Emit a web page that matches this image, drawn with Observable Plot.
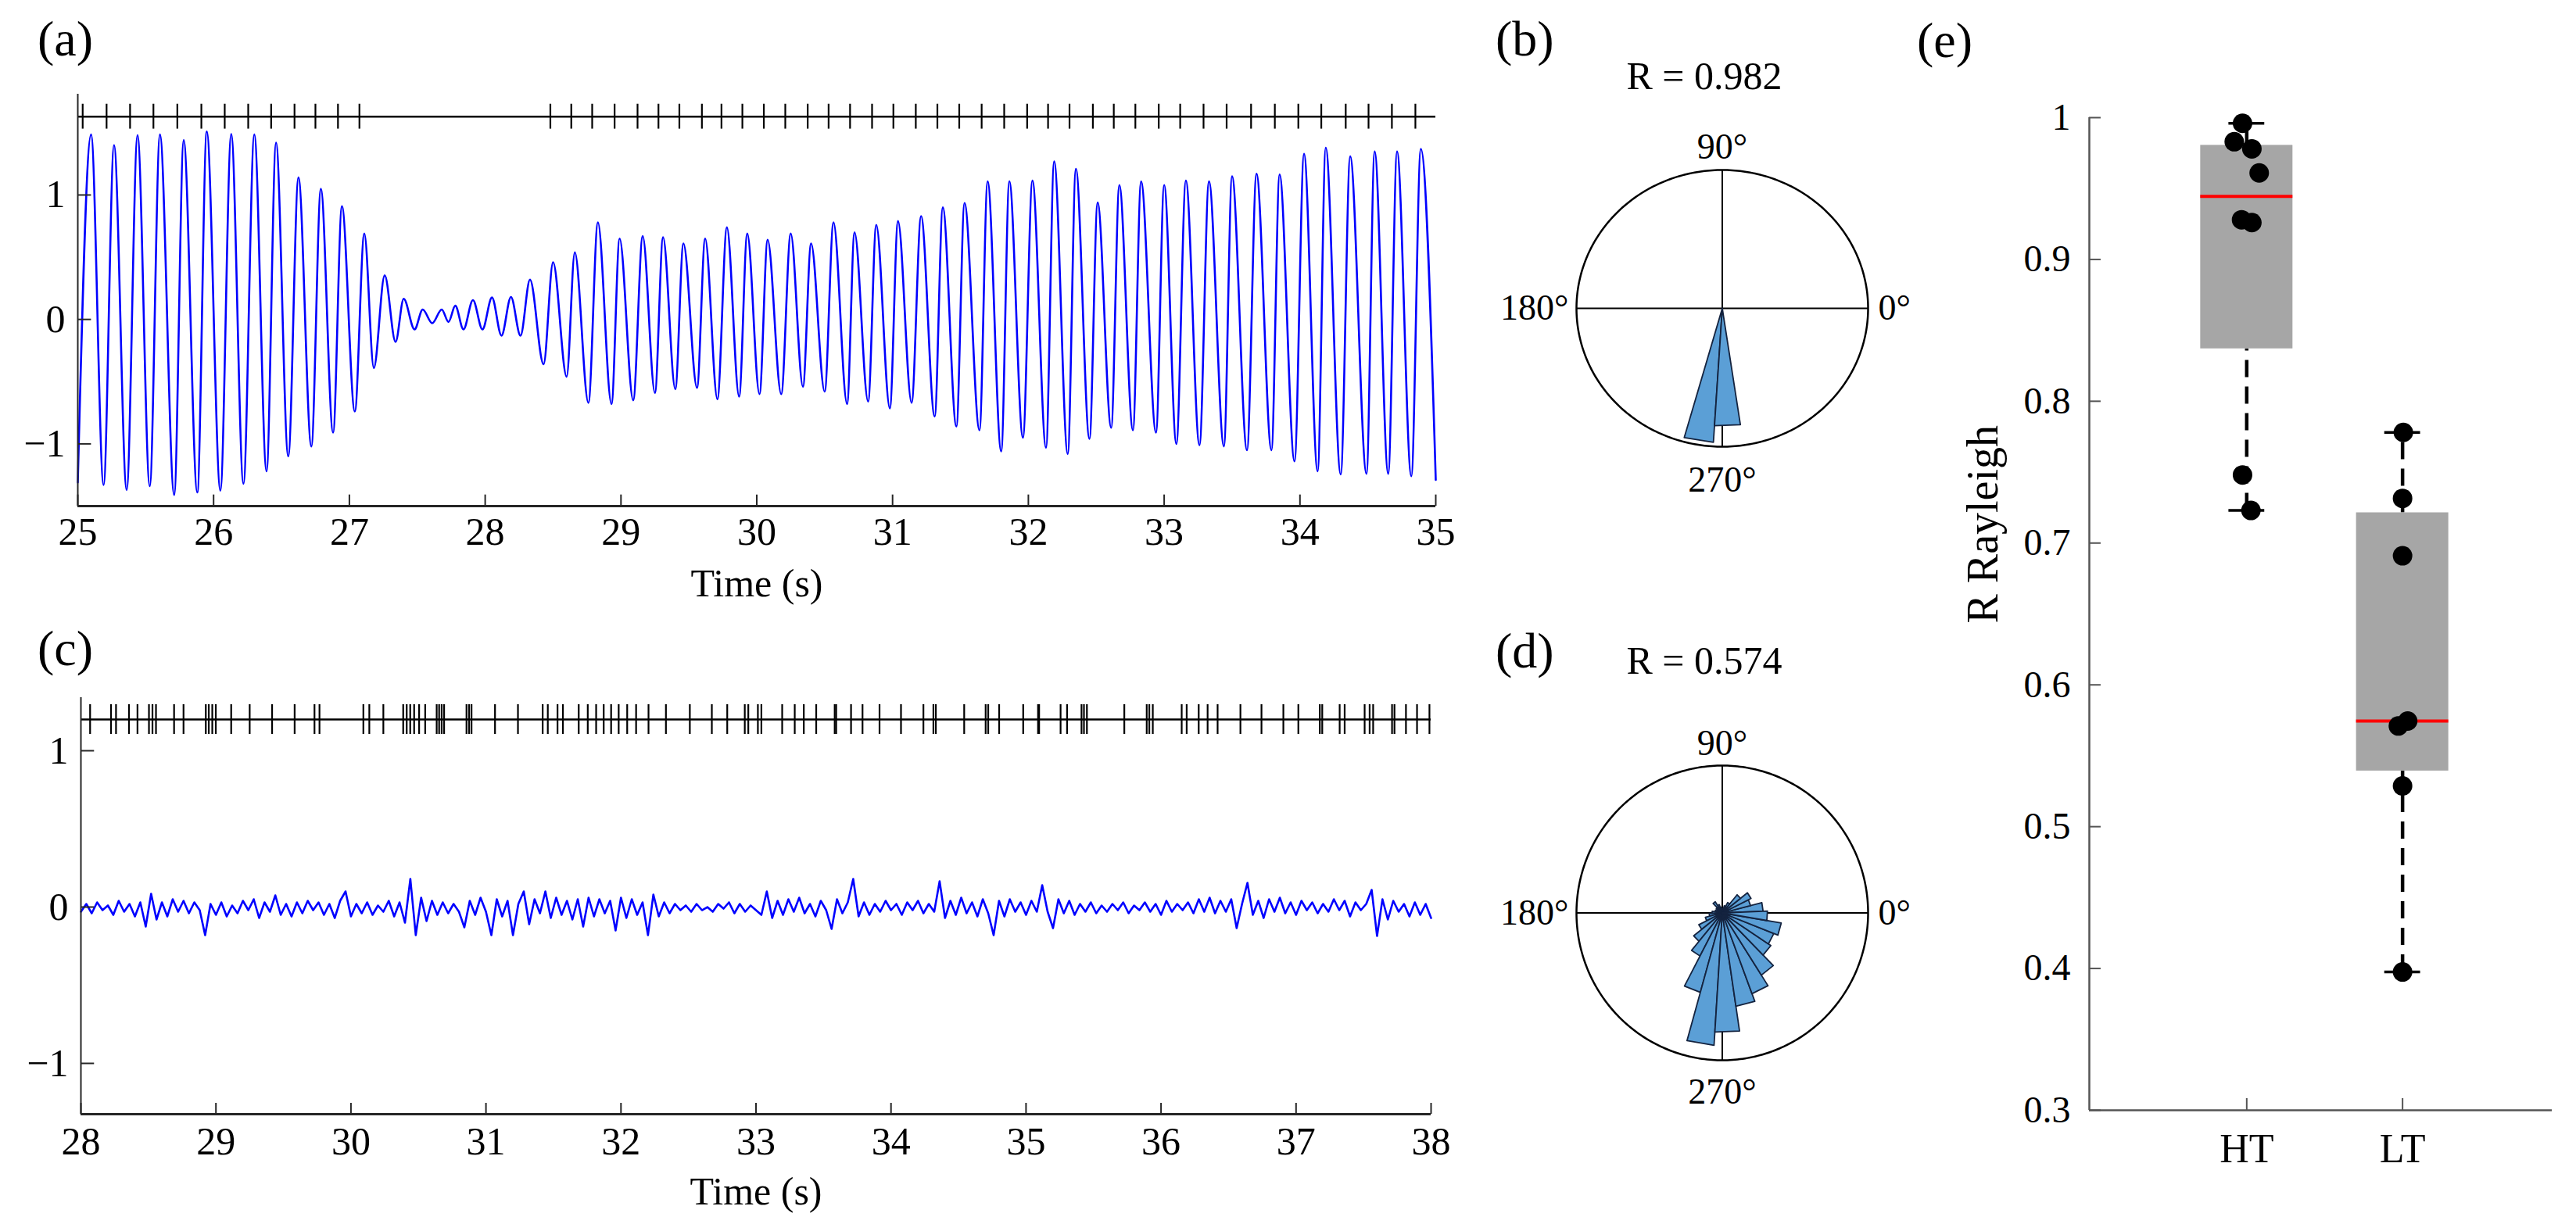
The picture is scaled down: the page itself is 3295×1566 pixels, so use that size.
<!DOCTYPE html>
<html>
<head>
<meta charset="utf-8">
<script src="https://cdn.jsdelivr.net/npm/d3@7"></script>
<script src="https://cdn.jsdelivr.net/npm/@observablehq/plot@0.6"></script>
<style>
  html, body { margin: 0; padding: 0; background: #fff; overflow: hidden; }
  #page { position: relative; width: 3295px; height: 1566px; background: #fff;
          font-family: "Liberation Serif", "Times New Roman", serif; color: #000; }
  .lbl { position: absolute; line-height: 1; white-space: nowrap; }
</style>
</head>
<body>
<div id="page"></div>
<script>
// ---------------- DATA ----------------
// (a) signal: successive extrema (time in s, amplitude)
const aTimes = [25.00,25.098,25.19,25.267,25.36,25.44,25.53,25.605,25.71,25.78,25.88,25.95,26.05,26.13,26.22,26.30,26.39,26.46,26.55,26.625,26.72,26.79,26.88,26.945,27.04,27.11,27.18,27.26,27.34,27.40,27.48,27.54,27.61,27.68,27.73,27.78,27.84,27.91,27.98,28.05,28.12,28.19,28.26,28.33,28.43,28.50,28.60,28.66,28.76,28.83,28.93,28.99,29.09,29.16,29.25,29.31,29.40,29.46,29.56,29.62,29.71,29.78,29.87,29.93,30.02,30.08,30.18,30.25,30.34,30.40,30.50,30.565,30.665,30.72,30.82,30.88,30.98,31.04,31.14,31.21,31.31,31.37,31.47,31.53,31.64,31.70,31.80,31.86,31.96,32.03,32.13,32.19,32.29,32.35,32.45,32.51,32.61,32.67,32.77,32.83,32.94,33.00,33.09,33.16,33.26,33.33,33.44,33.50,33.61,33.68,33.79,33.85,33.96,34.03,34.13,34.19,34.30,34.37,34.49,34.55,34.65,34.715,34.82,34.89,35.00];
const aValues = [-1.31,1.486,-1.33,1.40,-1.37,1.48,-1.34,1.486,-1.41,1.44,-1.39,1.51,-1.375,1.49,-1.32,1.486,-1.22,1.42,-1.10,1.14,-1.02,1.05,-0.91,0.91,-0.74,0.69,-0.39,0.354,-0.18,0.166,-0.08,0.08,-0.03,0.08,-0.02,0.11,-0.08,0.155,-0.08,0.176,-0.13,0.18,-0.13,0.32,-0.36,0.46,-0.46,0.54,-0.67,0.78,-0.68,0.65,-0.65,0.67,-0.59,0.66,-0.56,0.61,-0.55,0.65,-0.64,0.74,-0.62,0.69,-0.60,0.64,-0.60,0.69,-0.54,0.61,-0.58,0.78,-0.68,0.70,-0.66,0.76,-0.715,0.79,-0.67,0.83,-0.78,0.90,-0.86,0.935,-0.89,1.11,-1.06,1.11,-0.95,1.115,-1.03,1.27,-1.08,1.21,-0.96,0.94,-0.87,1.08,-0.89,1.11,-0.91,1.08,-1.00,1.115,-1.01,1.11,-1.02,1.15,-1.05,1.17,-1.05,1.165,-1.14,1.33,-1.22,1.38,-1.245,1.31,-1.24,1.35,-1.24,1.35,-1.26,1.37,-1.29];
// (a) spike times (s)
const aSpikes = [25.036,25.212,25.385,25.557,25.733,25.91,26.082,26.255,26.424,26.596,26.75,26.916,27.074,28.48,28.634,28.788,28.953,29.122,29.276,29.43,29.596,29.74,29.894,30.052,30.21,30.375,30.529,30.687,30.849,31.006,31.171,31.33,31.491,31.656,31.822,31.991,32.145,32.303,32.475,32.629,32.788,32.96,33.118,33.29,33.46,33.64,33.815,33.988,34.157,34.337,34.505,34.677,34.85];
const aXTicks = [25,26,27,28,29,30,31,32,33,34,35];
const aYTicks = [-1,0,1];

// (c) signal sampled every 0.04 s from 28 s
const cStart = 28, cStep = 0.04;
const cValues = [
 -0.03,0.02,-0.04,0.03,-0.02,0.01,-0.05,0.04,-0.03,0.02,
 -0.06,0.03,-0.125,0.085,-0.08,0.03,-0.06,0.05,-0.03,0.04,
 -0.04,0.03,-0.02,-0.18,0.02,-0.05,0.03,-0.06,0.01,-0.04,
 0.04,-0.02,0.05,-0.07,0.03,-0.03,0.075,-0.05,0.02,-0.06,
 0.03,-0.04,0.04,-0.02,0.03,-0.05,0.02,-0.07,0.04,0.10,
 -0.06,0.02,-0.04,0.03,-0.05,0.01,-0.03,0.04,-0.06,0.03,
 -0.10,0.18,-0.18,0.06,-0.09,0.04,-0.05,0.03,-0.04,0.02,
 -0.03,-0.13,0.04,-0.05,0.06,-0.03,-0.18,0.05,-0.06,0.04,
 -0.18,0.02,0.10,-0.11,0.05,-0.04,0.10,-0.07,0.06,-0.05,
 0.04,-0.08,0.05,-0.125,0.06,-0.06,0.05,-0.04,0.04,-0.15,
 0.06,-0.07,0.05,-0.05,0.03,-0.18,0.08,-0.06,0.03,-0.04,
 0.02,-0.02,0.01,-0.03,0.02,-0.02,0.00,-0.03,0.02,-0.01,
 0.03,-0.04,0.02,-0.03,0.01,-0.02,-0.05,0.10,-0.07,0.04,
 -0.05,0.05,-0.03,0.06,-0.04,0.02,-0.06,0.04,-0.02,-0.14,
 0.05,-0.04,0.03,0.18,-0.06,0.03,-0.05,0.02,-0.03,0.04,
 -0.02,0.02,-0.05,0.03,-0.02,0.04,-0.04,0.02,-0.03,0.165,
 -0.07,0.04,-0.05,0.06,-0.04,0.03,-0.06,0.05,-0.04,-0.18,
 0.04,-0.06,0.05,-0.03,0.03,-0.05,0.04,-0.03,0.14,-0.03,
 -0.135,0.05,-0.04,0.04,-0.05,0.02,-0.03,0.03,-0.04,0.01,
 -0.03,0.02,-0.02,0.03,-0.04,0.01,-0.02,0.03,-0.03,0.02,
 -0.05,0.04,-0.03,0.02,-0.02,0.03,-0.04,0.05,-0.03,0.06,
 -0.04,0.04,-0.03,0.05,-0.135,0.02,0.155,-0.05,0.04,-0.07,
 0.05,-0.03,0.06,-0.04,0.03,-0.05,0.04,-0.02,0.03,-0.04,
 0.02,-0.03,0.05,-0.02,0.04,-0.06,0.03,-0.02,0.02,0.11,
 -0.185,0.05,-0.08,0.04,-0.03,0.02,-0.06,0.03,-0.05,0.02,
 -0.07];
const cSpikes = [28.068,28.223,28.26,28.356,28.419,28.504,28.53,28.556,28.69,28.76,28.925,28.947,28.973,28.999,29.113,29.25,29.416,29.583,29.73,29.767,30.092,30.136,30.24,30.387,30.413,30.439,30.468,30.505,30.55,30.635,30.653,30.672,30.69,30.856,30.875,30.893,31.067,31.237,31.42,31.458,31.53,31.57,31.687,31.754,31.816,31.872,31.927,31.983,32.046,32.112,32.204,32.333,32.51,32.673,32.787,32.917,32.943,33.014,33.04,33.194,33.287,33.354,33.446,33.583,33.594,33.704,33.789,33.915,34.074,34.24,34.314,34.332,34.542,34.701,34.72,34.801,34.979,35.089,35.097,35.256,35.304,35.411,35.429,35.451,35.728,35.894,35.913,35.939,36.153,36.19,36.279,36.345,36.419,36.588,36.744,36.906,37.017,37.176,37.194,37.323,37.36,37.508,37.545,37.571,37.711,37.729,37.814,37.896,37.988];
const cXTicks = [28,29,30,31,32,33,34,35,36,37,38];
const cYTicks = [-1,0,1];

// (b) rose: bin centre angles (deg) and relative lengths
const bAngles = [260.4, 272.4];
const bLengths = [0.97, 0.85];
// (d) rose
const dAngles = [8.4,20.4,32.4,44.4,56.4,68.4,80.4,92.4,104.4,116.4,128.4,140.4,152.4,164.4,176.4,188.4,200.4,212.4,224.4,236.4,248.4,260.4,272.4,284.4,296.4,308.4,320.4,332.4,344.4,356.4];
const dLengths = [0.28,0.20,0.22,0.16,0.08,0.05,0.03,0.02,0.04,0.06,0.09,0.05,0.04,0.05,0.07,0.09,0.12,0.18,0.25,0.33,0.56,0.90,0.81,0.64,0.585,0.50,0.40,0.38,0.41,0.31];
const roseBinWidth = 12;
const angleLabels = ["0°", "90°", "180°", "270°"];

// (e) R Rayleigh per group
const eGroups = ["HT", "LT"];
const htValues = [0.996, 0.983, 0.978, 0.961, 0.928, 0.926, 0.748, 0.723];
const ltValues = [0.778, 0.7315, 0.691, 0.571, 0.5745, 0.5287, 0.3975];
const htJitter = [-0.027, -0.08, 0.033, 0.08, -0.033, 0.033, -0.027, 0.027];
const ltJitter = [0.005, 0, 0, -0.027, 0.033, 0, 0];
const eYTicks = [0.3, 0.4, 0.5, 0.6, 0.7, 0.8, 0.9, 1];

// ---------------- RENDER ----------------
const FONT = '"Liberation Serif", "Times New Roman", serif';
const AX = "#262626";
const page = document.getElementById("page");
const fmt = d => d < 0 ? "\u2212" + Math.abs(d) : String(d);
const baseStyle = {fontFamily: FONT, fontSize: "50px", background: "transparent", color: "#000", overflow: "visible"};

function place(node, left, top) {
  node.style.position = "absolute";
  node.style.left = left + "px";
  node.style.top = top + "px";
  page.appendChild(node);
}
function label(text, left, top, size, width) {
  const d = document.createElement("div");
  d.className = "lbl";
  d.textContent = text;
  d.style.fontSize = size + "px";
  d.style.left = left + "px";
  d.style.top = top + "px";
  if (width) { d.style.width = width + "px"; d.style.textAlign = "center"; }
  page.appendChild(d);
}

function tracePlot(cfg) {
  const [x0, x1] = cfg.xDomain, [y0, y1] = cfg.yDomain;
  return Plot.plot({
    width: cfg.width, height: cfg.height,
    marginLeft: cfg.ml, marginRight: cfg.mr, marginTop: cfg.mt, marginBottom: cfg.mb,
    x: {domain: cfg.xDomain}, y: {domain: cfg.yDomain},
    style: baseStyle,
    marks: [
      Plot.line(cfg.data, {x: "t", y: "v", stroke: "#0000ff", strokeWidth: cfg.lineWidth, curve: cfg.curve}),
      Plot.ruleY([cfg.raster], {x1: x0, x2: x1, stroke: "#000", strokeWidth: 2.5}),
      Plot.ruleX(cfg.spikes, {y1: cfg.raster - cfg.spikeHalf, y2: cfg.raster + cfg.spikeHalf, stroke: "#000", strokeWidth: 2.2}),
      Plot.ruleX([x0], {y1: y0, y2: y1, stroke: AX, strokeWidth: 2}),
      Plot.ruleY([y0], {x1: x0, x2: x1, stroke: AX, strokeWidth: 3}),
      Plot.ruleX(cfg.xTicks, {y1: y0, y2: y0 + cfg.xTickLen, stroke: AX, strokeWidth: 2}),
      Plot.ruleY(cfg.yTicks, {x1: x0, x2: x0 + cfg.yTickLen, stroke: AX, strokeWidth: 2}),
      Plot.axisX({ticks: cfg.xTicks, tickSize: 0, tickPadding: cfg.xPad, label: null, tickFormat: fmt, fontSize: 50}),
      Plot.axisY({ticks: cfg.yTicks, tickSize: 0, tickPadding: 16, label: null, tickFormat: fmt, fontSize: 50}),
      Plot.text(["Time (s)"], {text: d => d, frameAnchor: "bottom", dy: 99, lineAnchor: "middle", fontSize: 50})
    ]
  });
}

// (a)
const aData = aTimes.map((t, i) => ({t, v: aValues[i]}));
place(tracePlot({
  width: 1900, height: 780, ml: 99, mr: 64, mt: 120, mb: 133,
  xDomain: [25, 35], yDomain: [-1.5, 1.81], data: aData, curve: "monotone-x", lineWidth: 2.6,
  raster: 1.63, spikeHalf: 0.1, spikes: aSpikes,
  xTicks: aXTicks, yTicks: aYTicks, xTickLen: 0.09, yTickLen: 0.1, xPad: 14
}), 0, 0);

// (c)
const cData = cValues.map((v, i) => ({t: cStart + i * cStep, v}));
place(tracePlot({
  width: 1900, height: 786, ml: 103, mr: 70, mt: 112, mb: 141,
  xDomain: [28, 38], yDomain: [-1.325, 1.34], data: cData, curve: "linear", lineWidth: 2.6,
  raster: 1.2, spikeHalf: 0.095, spikes: cSpikes,
  xTicks: cXTicks, yTicks: cYTicks, xTickLen: 0.07, yTickLen: 0.1, xPad: 16
}), 0, 780);

// rose plots
function rosePlot(angles, lengths, mt, mb, topDy, botDy) {
  const rad = Math.PI / 180, h = roseBinWidth / 2;
  const wedges = [];
  angles.forEach((a, i) => {
    const r = lengths[i];
    wedges.push({bin: i, x: 0, y: 0});
    wedges.push({bin: i, x: r * Math.cos((a - h) * rad), y: r * Math.sin((a - h) * rad)});
    wedges.push({bin: i, x: r * Math.cos((a + h) * rad), y: r * Math.sin((a + h) * rad)});
    wedges.push({bin: i, x: 0, y: 0});
  });
  const ring = d3.range(0, 361, 1).map(a => ({x: Math.cos(a * rad), y: Math.sin(a * rad)}));
  return Plot.plot({
    width: 600, height: 700, marginLeft: 136, marginRight: 91, marginTop: mt, marginBottom: mb,
    x: {domain: [-1, 1], axis: null}, y: {domain: [-1, 1], axis: null},
    style: baseStyle,
    marks: [
      Plot.ruleX([0], {y1: -1, y2: 1, stroke: "#000", strokeWidth: 2}),
      Plot.ruleY([0], {x1: -1, x2: 1, stroke: "#000", strokeWidth: 2}),
      Plot.line(ring, {x: "x", y: "y", stroke: "#000", strokeWidth: 2.5}),
      Plot.line(wedges, {x: "x", y: "y", z: "bin", fill: "#5b9fd6", stroke: "#14233f", strokeWidth: 1.8, curve: "linear"}),
      Plot.text([angleLabels[0]], {text: d => d, x: 1, y: 0, textAnchor: "start", dx: 13, fontSize: 46}),
      Plot.text([angleLabels[1]], {text: d => d, x: 0, y: 1, lineAnchor: "bottom", dy: topDy, fontSize: 46}),
      Plot.text([angleLabels[2]], {text: d => d, x: -1, y: 0, textAnchor: "end", dx: -10, fontSize: 46}),
      Plot.text([angleLabels[3]], {text: d => d, x: 0, y: -1, lineAnchor: "top", dy: botDy, fontSize: 46})
    ]
  });
}
place(rosePlot(bAngles, bLengths, 217, 129, -15, 25), 1880, 0);
place(rosePlot(dAngles, dLengths, 199, 124, -14, 23), 1880, 780);

// (e) box plot with MATLAB-style quartiles
function mq(sorted, p) {
  const n = sorted.length, pos = n * p + 0.5;
  if (pos <= 1) return sorted[0];
  if (pos >= n) return sorted[n - 1];
  const lo = Math.floor(pos), f = pos - lo;
  return sorted[lo - 1] + f * (sorted[lo] - sorted[lo - 1]);
}
const groupVals = [htValues, ltValues], groupJit = [htJitter, ltJitter];
const stats = groupVals.map((vals, gi) => {
  const s = vals.slice().sort((a, b) => a - b);
  const q1 = mq(s, 0.25), med = mq(s, 0.5), q3 = mq(s, 0.75), iqr = q3 - q1;
  const lo = d3.min(s.filter(v => v >= q1 - 1.5 * iqr));
  const hi = d3.max(s.filter(v => v <= q3 + 1.5 * iqr));
  return {pos: gi + 1, q1, med, q3, lo, hi};
});
const points = groupVals.flatMap((vals, gi) => vals.map((v, i) => ({pos: gi + 1 + groupJit[gi][i], v})));
const eX0 = -0.01, eX1 = 2.96, BOX = 0.296, CAP = 0.115;
place(Plot.plot({
  width: 845, height: 1566, marginLeft: 222, marginRight: 31, marginTop: 150, marginBottom: 146,
  x: {domain: [eX0, eX1]}, y: {domain: [0.3, 1]},
  style: baseStyle,
  marks: [
    Plot.ruleX(stats, {x: "pos", y1: "q3", y2: "hi", stroke: "#000", strokeWidth: 4.5, strokeDasharray: "22,12"}),
    Plot.ruleX(stats, {x: "pos", y1: "lo", y2: "q1", stroke: "#000", strokeWidth: 4.5, strokeDasharray: "22,12"}),
    Plot.ruleY(stats, {y: "hi", x1: d => d.pos - CAP, x2: d => d.pos + CAP, stroke: "#000", strokeWidth: 3.5}),
    Plot.ruleY(stats, {y: "lo", x1: d => d.pos - CAP, x2: d => d.pos + CAP, stroke: "#000", strokeWidth: 3.5}),
    Plot.rect(stats, {x1: d => d.pos - BOX, x2: d => d.pos + BOX, y1: "q1", y2: "q3", fill: "#a6a6a6"}),
    Plot.ruleY(stats, {y: "med", x1: d => d.pos - BOX, x2: d => d.pos + BOX, stroke: "#ff0000", strokeWidth: 4}),
    Plot.dot(points, {x: "pos", y: "v", r: 12.5, fill: "#000", stroke: "none"}),
    Plot.ruleX([eX0], {y1: 0.3, y2: 1, stroke: "#555", strokeWidth: 2.5}),
    Plot.ruleY([0.3], {x1: eX0, x2: eX1, stroke: "#555", strokeWidth: 2.5}),
    Plot.ruleY(eYTicks, {x1: eX0, x2: eX0 + 0.075, stroke: "#555", strokeWidth: 2}),
    Plot.ruleX(stats, {x: "pos", y1: 0.3, y2: 0.3083, stroke: "#555", strokeWidth: 2}),
    Plot.axisY({ticks: eYTicks, tickSize: 0, tickPadding: 24, label: null, fontSize: 48, tickFormat: d => d === 1 ? "1" : d.toFixed(1)}),
    Plot.axisX({ticks: stats.map(d => d.pos), tickSize: 0, tickPadding: 30, label: null, fontSize: 52, tickFormat: p => eGroups[p - 1]}),
    Plot.text(["R Rayleigh"], {text: d => d, frameAnchor: "left", rotate: -90, dx: -135, dy: 12, lineAnchor: "middle", fontSize: 56})
  ]
}), 2450, 0);

// panel letters and titles
label("(a)", 48, 18, 64);
label("(b)", 1913, 18, 64);
label("(c)", 48, 798, 64);
label("(d)", 1913, 801, 64);
label("(e)", 2452, 20, 64);
label("R = 0.982", 1980, 72, 50, 400);
label("R = 0.574", 1980, 820, 50, 400);
</script>
</body>
</html>
